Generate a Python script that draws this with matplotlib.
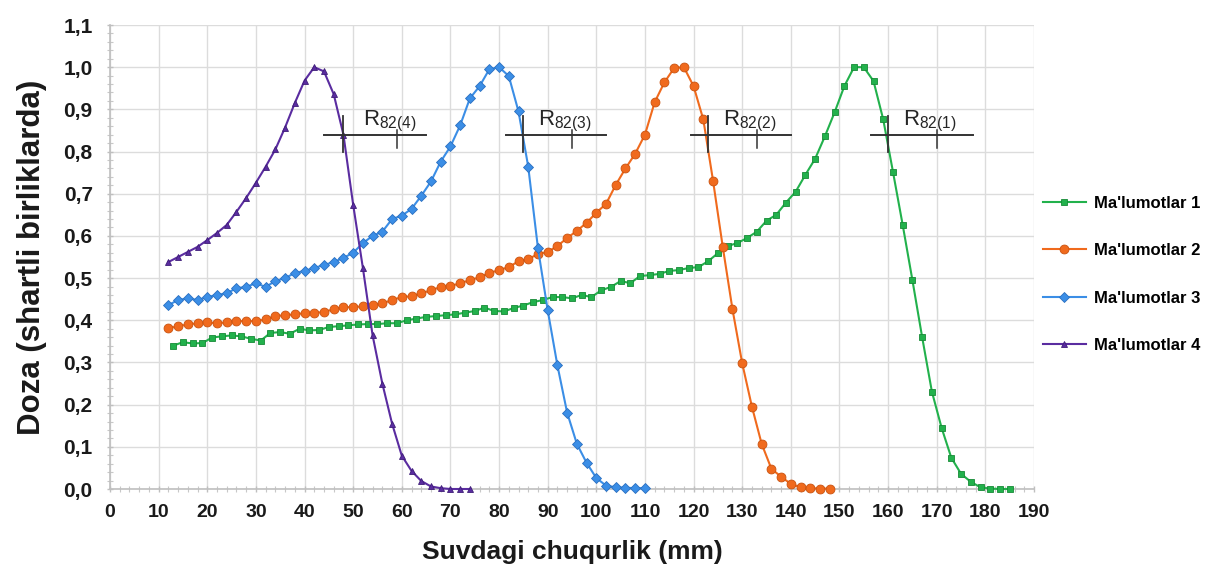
import matplotlib
matplotlib.use("Agg")
import matplotlib.pyplot as plt
from matplotlib.ticker import MultipleLocator, FuncFormatter

plt.rcParams['font.family'] = ['Liberation Sans', 'DejaVu Sans']

# ---------------- data ----------------
depth1 = list(range(13, 186, 2))
dose1 = [0.340, 0.348, 0.345, 0.346, 0.359, 0.362, 0.364, 0.362, 0.356, 0.352,
         0.370, 0.372, 0.368, 0.380, 0.376, 0.377, 0.384, 0.386, 0.388, 0.390,
         0.391, 0.391, 0.393, 0.393, 0.400, 0.404, 0.408, 0.410, 0.412, 0.414,
         0.418, 0.422, 0.430, 0.422, 0.421, 0.429, 0.435, 0.443, 0.448, 0.455,
         0.455, 0.452, 0.460, 0.455, 0.471, 0.479, 0.493, 0.488, 0.505, 0.507,
         0.510, 0.517, 0.519, 0.524, 0.526, 0.540, 0.559, 0.576, 0.583, 0.595,
         0.610, 0.636, 0.650, 0.679, 0.705, 0.745, 0.783, 0.836, 0.893, 0.955,
         1.000, 1.000, 0.967, 0.876, 0.752, 0.626, 0.495, 0.360, 0.231, 0.145,
         0.074, 0.036, 0.017, 0.004, 0.001, 0.000, 0.000]

depth2 = list(range(12, 149, 2))
dose2 = [0.381, 0.386, 0.390, 0.393, 0.395, 0.393, 0.395, 0.398, 0.398, 0.398,
         0.402, 0.410, 0.412, 0.414, 0.417, 0.417, 0.420, 0.426, 0.431, 0.431,
         0.433, 0.436, 0.440, 0.448, 0.455, 0.457, 0.464, 0.471, 0.479, 0.481,
         0.488, 0.495, 0.502, 0.512, 0.519, 0.526, 0.540, 0.545, 0.557, 0.562,
         0.576, 0.595, 0.612, 0.631, 0.655, 0.676, 0.721, 0.760, 0.795, 0.840,
         0.917, 0.964, 0.998, 1.000, 0.955, 0.876, 0.731, 0.574, 0.426, 0.298,
         0.195, 0.107, 0.048, 0.029, 0.012, 0.004, 0.002, 0.001, 0.001]

depth3 = list(range(12, 111, 2))
dose3 = [0.436, 0.448, 0.452, 0.448, 0.455, 0.460, 0.464, 0.476, 0.479, 0.488,
         0.479, 0.493, 0.500, 0.512, 0.517, 0.524, 0.531, 0.538, 0.548, 0.560,
         0.583, 0.600, 0.610, 0.640, 0.648, 0.664, 0.695, 0.729, 0.776, 0.812,
         0.862, 0.926, 0.955, 0.995, 1.000, 0.979, 0.895, 0.764, 0.571, 0.424,
         0.293, 0.181, 0.107, 0.062, 0.026, 0.008, 0.004, 0.003, 0.002, 0.002]

depth4 = list(range(12, 75, 2))
dose4 = [0.538, 0.550, 0.562, 0.574, 0.590, 0.607, 0.626, 0.657, 0.690, 0.726,
         0.764, 0.805, 0.857, 0.915, 0.968, 1.000, 0.990, 0.936, 0.840, 0.674,
         0.524, 0.364, 0.250, 0.155, 0.079, 0.043, 0.019, 0.006, 0.002, 0.000,
         0.000, 0.000]

series_labels = ["Ma'lumotlar 1", "Ma'lumotlar 2", "Ma'lumotlar 3", "Ma'lumotlar 4"]

# R82 annotations: label, crossing depth, tick depth, line start, line end
r82_names = ['82(4)', '82(3)', '82(2)', '82(1)']
r82_cross = [48, 85, 123, 160]
r82_tick = [59, 95, 133, 170]
r82_start = [44, 81.5, 119.5, 156.5]
r82_end = [65, 102, 140, 177.5]
r82_level = 0.84

x_ticks = list(range(0, 191, 10))
y_ticks = [0.0, 0.1, 0.2, 0.3, 0.4, 0.5, 0.6, 0.7, 0.8, 0.9, 1.0, 1.1]

# ---------------- styles ----------------
colors = ['#22b14c', '#f06a1d', '#3b8ee6', '#5a2ca0']
edge = ['#178a36', '#c9520f', '#2a6fc0', '#3f1d78']
markers = ['s', 'o', 'D', '^']
msizes = [4.4, 6.4, 5.2, 5.0]

W, H = 1205, 570
fig = plt.figure(figsize=(W / 100, H / 100), dpi=100)
ax = fig.add_axes([110 / W, 1 - 489 / H, (1034 - 110) / W, (489 - 25) / H])

data = [(depth1, dose1), (depth2, dose2), (depth3, dose3), (depth4, dose4)]
handles = []
for (xs, ys), c, ec, m, ms, lab in zip(data, colors, edge, markers, msizes, series_labels):
    ln, = ax.plot(xs, ys, color=c, lw=1.5, marker=m, ms=ms, mfc=c, mec=ec,
                  mew=0.6, label=lab, clip_on=False, zorder=3)
    handles.append(ln)

# R82 markings
for name, cx, tx, s, e in zip(r82_names, r82_cross, r82_tick, r82_start, r82_end):
    ax.plot([s, e], [r82_level, r82_level], color='#333333', lw=1.4, zorder=4)
    ax.plot([cx, cx], [0.80, 0.885], color='#333333', lw=1.3, zorder=4)
    ax.plot([tx, tx], [0.808, 0.85], color='#333333', lw=1.1, zorder=4)
    ax.text(tx - 1.5, 0.862, r'$\mathregular{R_{%s}}$' % name, ha='center',
            va='baseline', fontsize=16, color='#262626', zorder=5)

ax.set_xlim(0, 190)
ax.set_ylim(0, 1.1)
ax.set_xticks(x_ticks)
ax.set_yticks(y_ticks)
ax.xaxis.set_minor_locator(MultipleLocator(2))
ax.yaxis.set_minor_locator(MultipleLocator(0.02))
ax.yaxis.set_major_formatter(FuncFormatter(lambda v, p: ('%.1f' % v).replace('.', ',')))
ax.grid(True, which='major', color='#dcdcdc', lw=1.0, zorder=0)
ax.set_axisbelow(True)

for sp in ['top', 'right']:
    ax.spines[sp].set_visible(False)
for sp in ['left', 'bottom']:
    ax.spines[sp].set_color('#bfbfbf')
    ax.spines[sp].set_linewidth(1.2)

ax.tick_params(which='major', length=5, direction='inout', color='#bfbfbf', width=1.0)
ax.tick_params(which='minor', length=4, direction='inout', color='#c8c8c8', width=0.8)
ax.tick_params(axis='x', which='major', pad=8, labelsize=14, labelcolor='#1a1a1a')
ax.tick_params(axis='y', which='major', pad=10, labelsize=15, labelcolor='#1a1a1a')
for lbl in ax.get_xticklabels() + ax.get_yticklabels():
    lbl.set_fontweight('bold')

ax.set_xlabel('Suvdagi chuqurlik (mm)', fontsize=19, fontweight='bold',
              color='#1a1a1a', labelpad=14)
ax.set_ylabel('Doza (shartli birliklarda)', fontsize=22.5, fontweight='bold',
              color='#1a1a1a', labelpad=12)

fig.legend(handles=handles, labels=series_labels, loc='upper left',
           bbox_to_anchor=(1036 / W, 1 - 189 / H), frameon=False,
           prop={'weight': 'bold', 'size': 12}, handlelength=2.6,
           handletextpad=0.5, labelspacing=1.95, borderaxespad=0)

fig.savefig('out.png', dpi=100, facecolor='white')
